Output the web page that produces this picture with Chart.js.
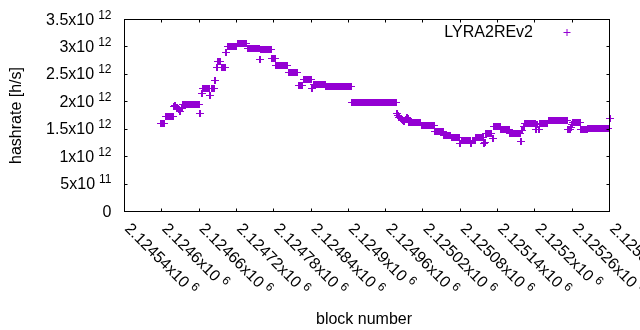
<!DOCTYPE html>
<html>
<head>
<meta charset="utf-8">
<title>LYRA2REv2 hashrate</title>
<script src="https://cdn.jsdelivr.net/npm/chart.js@4.4.1/dist/chart.umd.min.js"></script>
<style>
  body { margin: 0; background: #fff; }
  #hashchart { display: block; background: #fff; }
</style>
</head>
<body>
<canvas id="hashchart" width="640" height="330"></canvas>
<script>
// start data
// hashrate in 10^12 h/s, one reading every blockStep blocks from firstBlock
const firstBlock = 2124598;
const blockStep = 2;
const hashrate = [
  1.60,1.60,1.60,1.60,1.74,1.74,1.74,1.74,1.74,1.74,
  1.74,1.92,1.93,1.90,1.88,1.86,1.83,1.87,1.95,1.95,
  1.95,1.95,1.95,1.95,1.95,1.95,1.95,1.95,1.95,1.95,
  1.95,1.95,1.78,2.16,2.24,2.24,2.24,2.24,2.24,2.24,
  2.11,2.24,2.24,2.24,2.38,2.63,2.73,2.73,2.73,2.62,
  2.62,2.62,2.62,2.90,3.01,3.01,3.01,3.01,3.01,3.01,
  3.01,3.01,3.06,3.06,3.06,3.06,3.06,3.06,3.06,3.06,
  2.97,2.97,2.97,2.97,2.97,2.97,2.97,2.97,2.97,2.97,
  2.77,2.95,2.95,2.95,2.95,2.95,2.95,2.95,2.95,2.95,
  2.79,2.79,2.79,2.66,2.66,2.66,2.66,2.66,2.66,2.66,
  2.66,2.66,2.66,2.53,2.53,2.53,2.53,2.53,2.53,2.53,
  2.53,2.29,2.29,2.29,2.29,2.40,2.40,2.40,2.40,2.40,
  2.40,2.40,2.24,2.32,2.32,2.32,2.32,2.32,2.32,2.32,
  2.32,2.32,2.32,2.27,2.27,2.27,2.27,2.27,2.27,2.27,
  2.27,2.27,2.27,2.27,2.27,2.27,2.27,2.27,2.27,2.27,
  2.27,2.27,2.27,2.27,1.98,1.98,1.98,1.98,1.98,1.98,
  1.98,1.98,1.98,1.98,1.98,1.98,1.98,1.98,1.98,1.98,
  1.98,1.98,1.98,1.98,1.98,1.98,1.98,1.98,1.98,1.98,
  1.98,1.98,1.98,1.98,1.98,1.98,1.98,1.98,1.98,1.98,
  1.78,1.75,1.72,1.69,1.67,1.65,1.64,1.68,1.71,1.69,
  1.63,1.63,1.63,1.63,1.63,1.63,1.63,1.63,1.63,1.63,
  1.56,1.56,1.56,1.56,1.56,1.56,1.56,1.56,1.56,1.56,
  1.56,1.45,1.45,1.45,1.45,1.45,1.45,1.45,1.39,1.39,
  1.39,1.39,1.39,1.39,1.35,1.35,1.35,1.35,1.35,1.35,
  1.35,1.24,1.29,1.29,1.29,1.29,1.29,1.29,1.29,1.29,
  1.24,1.29,1.29,1.29,1.35,1.35,1.35,1.35,1.35,1.35,
  1.24,1.25,1.42,1.42,1.42,1.42,1.42,1.33,1.55,1.55,
  1.55,1.55,1.55,1.55,1.49,1.49,1.49,1.49,1.49,1.49,
  1.49,1.42,1.42,1.42,1.42,1.42,1.42,1.42,1.42,1.42,
  1.27,1.48,1.55,1.60,1.60,1.60,1.60,1.60,1.60,1.60,
  1.60,1.60,1.49,1.58,1.49,1.61,1.61,1.61,1.61,1.61,
  1.61,1.61,1.66,1.66,1.66,1.66,1.66,1.66,1.66,1.66,
  1.66,1.66,1.66,1.66,1.66,1.66,1.66,1.66,1.49,1.50,
  1.54,1.58,1.63,1.63,1.63,1.63,1.63,1.63,1.50,1.50,
  1.50,1.50,1.50,1.50,1.52,1.52,1.52,1.52,1.52,1.52,
  1.51,1.51,1.51,1.51,1.51,1.51,1.52,1.52,1.52,1.52,
  1.52,1.69
];

const xTicks = [2124540, 2124600, 2124660, 2124720, 2124780, 2124840, 2124900,
                2124960, 2125020, 2125080, 2125140, 2125200, 2125260, 2125320];
const xTickText = ['2.12454x10', '2.1246x10', '2.12466x10', '2.12472x10', '2.12478x10',
                   '2.12484x10', '2.1249x10', '2.12496x10', '2.12502x10', '2.12508x10',
                   '2.12514x10', '2.1252x10', '2.12526x10', '2.12532x10'];
const xTickExp = '6';

const yTicks = [0, 0.5, 1, 1.5, 2, 2.5, 3, 3.5];
const yTickText = ['0', '5x10', '1x10', '1.5x10', '2x10', '2.5x10', '3x10', '3.5x10'];
const yTickExp = ['', '11', '12', '12', '12', '12', '12', '12'];

const seriesName = 'LYRA2REv2';
const xTitle = 'block number';
const yTitle = 'hashrate [h/s]';
// end data

const purple = '#9400d3';
const fontName = '"Liberation Sans", Arial, sans-serif';

const points = hashrate.map((v, i) => ({ x: firstBlock + i * blockStep, y: v }));

// start marker: small crisp '+' like the gnuplot png terminal
const plusMark = document.createElement('canvas');
plusMark.width = 8;
plusMark.height = 7;
const pm = plusMark.getContext('2d');
pm.fillStyle = purple;
pm.fillRect(0, 3, 8, 1);
pm.fillRect(3, 0, 2, 7);
// end marker

// start frame, ticks and texts (gnuplot look)
const gnuplotFrame = {
  id: 'gnuplotFrame',
  beforeDatasetsDraw(chart) {
    chart.ctx.imageSmoothingEnabled = false;
  },
  afterDraw(chart) {
    const c = chart.ctx;
    const a = chart.chartArea;
    const sx = chart.scales.x;
    const sy = chart.scales.y;
    c.save();
    c.strokeStyle = '#000';
    c.lineWidth = 1;
    c.strokeRect(a.left, a.top, a.right - a.left, a.bottom - a.top);

    // ticks point inwards, mirrored on top and right
    c.beginPath();
    xTicks.forEach(v => {
      const px = Math.floor(sx.getPixelForValue(v)) + 0.5;
      c.moveTo(px, a.bottom); c.lineTo(px, a.bottom - 3);
      c.moveTo(px, a.top); c.lineTo(px, a.top + 3);
    });
    yTicks.forEach(v => {
      const py = Math.floor(sy.getPixelForValue(v)) + 0.5;
      c.moveTo(a.left, py); c.lineTo(a.left + 3, py);
      c.moveTo(a.right, py); c.lineTo(a.right - 3, py);
    });
    c.stroke();

    c.fillStyle = '#000';
    // y tick labels with superscript exponent
    yTicks.forEach((v, i) => {
      const py = sy.getPixelForValue(v);
      const right = 111.5;
      c.textAlign = 'right';
      c.textBaseline = 'alphabetic';
      let supW = 0;
      if (yTickExp[i]) {
        c.font = '12px ' + fontName;
        supW = c.measureText(yTickExp[i]).width + 4;
        c.fillText(yTickExp[i], right, py - 1);
      }
      c.font = '16px ' + fontName;
      c.fillText(yTickText[i], right - supW, py + 5);
    });

    // x tick labels, rotated down to the right
    xTicks.forEach((v, i) => {
      const px = sx.getPixelForValue(v);
      c.save();
      c.translate(px - 0.5, a.bottom + 18);
      c.rotate(Math.PI / 4);
      c.textAlign = 'left';
      c.textBaseline = 'alphabetic';
      c.font = '16px ' + fontName;
      c.fillText(xTickText[i], 0, 0);
      const w = c.measureText(xTickText[i]).width;
      c.font = '12px ' + fontName;
      c.fillText(xTickExp, w + 4, -6);
      c.restore();
    });

    // axis titles
    c.font = '16px ' + fontName;
    c.textAlign = 'center';
    c.fillText(xTitle, 364, 324);
    c.save();
    c.translate(21, (a.top + a.bottom) / 2);
    c.rotate(-Math.PI / 2);
    c.fillText(yTitle, 0, 0);
    c.restore();

    // key, top right inside the plot
    c.textAlign = 'right';
    c.fillText(seriesName, 533, 37);
    c.strokeStyle = purple;
    c.beginPath();
    c.moveTo(563.5, 32.5); c.lineTo(570.5, 32.5);
    c.moveTo(567, 29); c.lineTo(567, 36);
    c.stroke();
    c.restore();
  }
};
// end frame

const ctx = document.getElementById('hashchart');

let hashChart = new Chart(ctx, {
  type: 'scatter',
  data: {
    datasets: [{
      label: seriesName,
      data: points,
      pointStyle: plusMark,
      pointRadius: 4,
      pointHoverRadius: 4,
      borderWidth: 1,
      borderColor: purple,
      backgroundColor: purple,
      clip: false
    }]
  },
  options: {
    responsive: false,
    animation: false,
    events: [],
    layout: { padding: { left: 0, top: 19.5, right: 30.5, bottom: 0 } },
    plugins: {
      legend: { display: false },
      tooltip: { enabled: false }
    },
    scales: {
      x: {
        type: 'linear',
        min: xTicks[0],
        max: xTicks[xTicks.length - 1],
        ticks: { display: false },
        grid: { display: false },
        border: { display: false },
        afterFit(s) { s.height = 118.5; }
      },
      y: {
        min: yTicks[0],
        max: yTicks[yTicks.length - 1],
        ticks: { display: false },
        grid: { display: false },
        border: { display: false },
        afterFit(s) { s.width = 124.5; }
      }
    }
  },
  plugins: [gnuplotFrame]
});
</script>
</body>
</html>
